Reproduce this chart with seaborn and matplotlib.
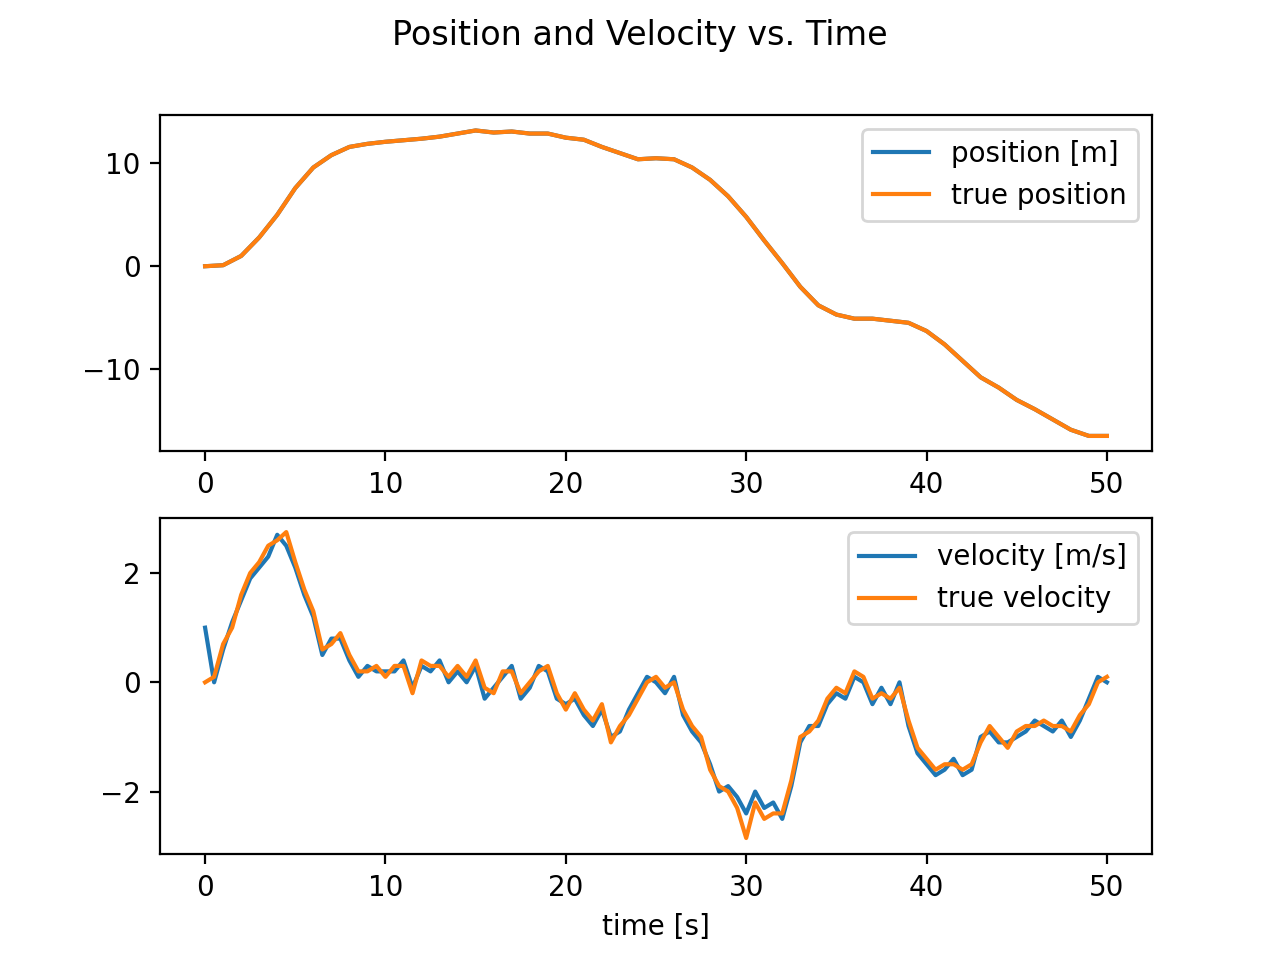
import numpy as np
import pandas as pd
import matplotlib.pyplot as plt
import seaborn as sns

# position, read every 1 s
pos_time = list(range(0, 51))
true_position = [0, 0.1, 1.0, 2.8, 5.0, 7.6, 9.6, 10.8, 11.6, 11.9, 12.1, 12.25, 12.4, 12.6, 12.9, 13.2, 13.0, 13.1, 12.9, 12.9,
                 12.5, 12.3, 11.6, 11.0, 10.4, 10.5, 10.4, 9.6, 8.4, 6.8, 4.8, 2.5, 0.3, -2.0, -3.8, -4.7, -5.1, -5.1, -5.3, -5.5,
                 -6.3, -7.6, -9.2, -10.8, -11.8, -13.0, -13.9, -14.9, -15.9, -16.5, -16.5]
position = [0, 0.1, 1.0, 2.8, 5.0, 7.6, 9.6, 10.8, 11.6, 11.9, 12.1, 12.25, 12.4, 12.6, 12.9, 13.2, 13.0, 13.1, 12.9, 12.9,
            12.5, 12.3, 11.6, 11.0, 10.4, 10.5, 10.4, 9.6, 8.4, 6.8, 4.8, 2.5, 0.3, -2.0, -3.8, -4.7, -5.1, -5.1, -5.3, -5.5,
            -6.3, -7.6, -9.2, -10.8, -11.8, -13.0, -13.9, -14.9, -15.9, -16.5, -16.5]

# velocity, read every 0.5 s
vel_time = [i * 0.5 for i in range(101)]
true_velocity = [0.0, 0.1, 0.7, 1.0, 1.6, 2.0, 2.2, 2.5, 2.6, 2.75, 2.2, 1.7, 1.3, 0.6, 0.7, 0.9, 0.5, 0.2, 0.2, 0.3,
                 0.1, 0.3, 0.3, -0.2, 0.4, 0.3, 0.3, 0.1, 0.3, 0.1, 0.4, -0.1, -0.2, 0.2, 0.2, -0.2, 0.0, 0.2, 0.3, -0.2,
                 -0.5, -0.2, -0.5, -0.7, -0.4, -1.1, -0.8, -0.6, -0.3, 0.0, 0.1, -0.1, 0.0, -0.5, -0.8, -1.0, -1.6, -1.9, -2.0, -2.3,
                 -2.85, -2.2, -2.5, -2.4, -2.4, -1.8, -1.0, -0.9, -0.7, -0.3, -0.1, -0.2, 0.2, 0.1, -0.3, -0.2, -0.3, -0.1, -0.7, -1.2,
                 -1.4, -1.6, -1.5, -1.5, -1.6, -1.5, -1.1, -0.8, -1.0, -1.2, -0.9, -0.8, -0.8, -0.7, -0.8, -0.8, -0.9, -0.6, -0.4, 0.0,
                 0.1]
velocity = [1.0, 0.0, 0.6, 1.1, 1.5, 1.9, 2.1, 2.3, 2.7, 2.5, 2.1, 1.6, 1.2, 0.5, 0.8, 0.8, 0.4, 0.1, 0.3, 0.2,
            0.2, 0.2, 0.4, -0.1, 0.3, 0.2, 0.4, 0.0, 0.2, 0.0, 0.3, -0.3, -0.1, 0.1, 0.3, -0.3, -0.1, 0.3, 0.2, -0.3,
            -0.4, -0.3, -0.6, -0.8, -0.5, -1.0, -0.9, -0.5, -0.2, 0.1, 0.0, -0.2, 0.1, -0.6, -0.9, -1.1, -1.5, -2.0, -1.9, -2.1,
            -2.4, -2.0, -2.3, -2.2, -2.5, -1.9, -1.1, -0.8, -0.8, -0.4, -0.2, -0.3, 0.1, 0.0, -0.4, -0.1, -0.4, 0.0, -0.8, -1.3,
            -1.5, -1.7, -1.6, -1.4, -1.7, -1.6, -1.0, -0.9, -1.1, -1.1, -1.0, -0.9, -0.7, -0.8, -0.9, -0.7, -1.0, -0.7, -0.3, 0.1,
            0.0]

fig, (ax1, ax2) = plt.subplots(2, 1, figsize=(6.4, 4.8), dpi=200)
fig.suptitle('Position and Velocity vs. Time')

sns.lineplot(x=pos_time, y=position, ax=ax1, label='position [m]', color='C0')
sns.lineplot(x=pos_time, y=true_position, ax=ax1, label='true position', color='C1')
ax1.legend(loc='upper right')

sns.lineplot(x=vel_time, y=velocity, ax=ax2, label='velocity [m/s]', color='C0')
sns.lineplot(x=vel_time, y=true_velocity, ax=ax2, label='true velocity', color='C1')
ax2.set_ylim(-3.15, 3.0)
ax2.set_yticks([-2, 0, 2])
ax2.legend(loc='upper right')
ax2.set_xlabel('time [s]')

fig.savefig('out.png')
